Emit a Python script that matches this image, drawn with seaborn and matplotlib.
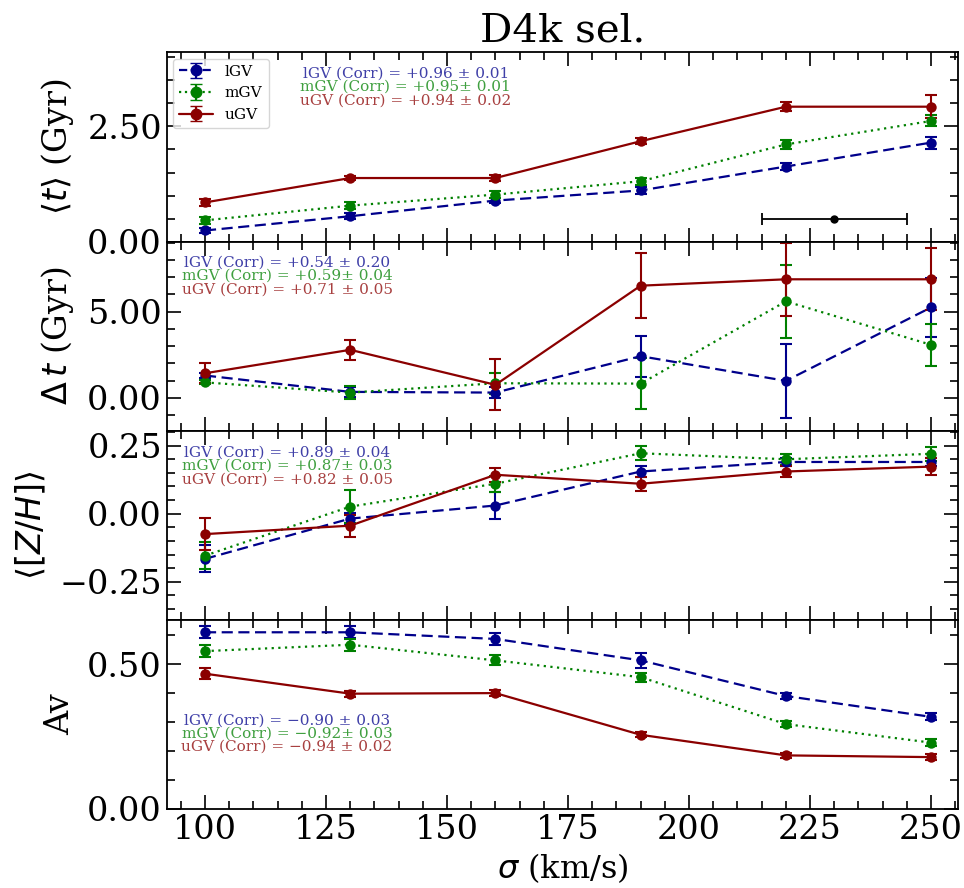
import numpy as np
import pandas as pd
import matplotlib
matplotlib.use("Agg")
import matplotlib.pyplot as plt
from matplotlib.ticker import MultipleLocator, AutoMinorLocator, FuncFormatter
import seaborn as sns

# ---------------- data ----------------
sigma = [100, 130, 160, 190, 220, 250]
groups = ["lGV", "mGV", "uGV"]

age_lGV = [0.24, 0.55, 0.89, 1.11, 1.63, 2.15]
age_mGV = [0.46, 0.78, 1.02, 1.31, 2.11, 2.62]
age_uGV = [0.85, 1.38, 1.38, 2.18, 2.93, 2.93]
age_err_lGV = [0.05, 0.06, 0.06, 0.08, 0.07, 0.13]
age_err_mGV = [0.07, 0.07, 0.08, 0.08, 0.09, 0.12]
age_err_uGV = [0.08, 0.05, 0.06, 0.06, 0.10, 0.25]

dt_lGV = [1.30, 0.35, 0.31, 2.42, 0.99, 5.25]
dt_mGV = [0.90, 0.31, 0.85, 0.83, 5.60, 3.08]
dt_uGV = [1.43, 2.79, 0.76, 6.51, 6.88, 6.88]
dt_err_lGV = [0.15, 0.30, 0.30, 1.20, 2.15, 1.70]
dt_err_mGV = [0.12, 0.40, 0.60, 1.50, 2.10, 1.23]
dt_err_uGV = [0.58, 0.58, 1.47, 1.90, 2.10, 1.80]

zh_lGV = [-0.166, -0.018, 0.030, 0.155, 0.190, 0.190]
zh_mGV = [-0.154, 0.026, 0.110, 0.222, 0.200, 0.220]
zh_uGV = [-0.075, -0.044, 0.143, 0.110, 0.155, 0.173]
zh_err_lGV = [0.050, 0.020, 0.050, 0.020, 0.015, 0.015]
zh_err_mGV = [0.050, 0.060, 0.030, 0.025, 0.020, 0.025]
zh_err_uGV = [0.059, 0.040, 0.025, 0.025, 0.020, 0.030]

av_lGV = [0.610, 0.610, 0.587, 0.513, 0.390, 0.318]
av_mGV = [0.545, 0.567, 0.513, 0.455, 0.293, 0.229]
av_uGV = [0.467, 0.398, 0.400, 0.256, 0.185, 0.179]
av_err_lGV = [0.020, 0.020, 0.020, 0.025, 0.012, 0.012]
av_err_mGV = [0.020, 0.020, 0.017, 0.015, 0.010, 0.012]
av_err_uGV = [0.020, 0.010, 0.010, 0.008, 0.008, 0.010]

corr_age = ["lGV (Corr) = +0.96 \u00b1 0.01", "mGV (Corr) = +0.95\u00b1 0.01", "uGV (Corr) = +0.94 \u00b1 0.02"]
corr_dt = ["lGV (Corr) = +0.54 \u00b1 0.20", "mGV (Corr) = +0.59\u00b1 0.04", "uGV (Corr) = +0.71 \u00b1 0.05"]
corr_zh = ["lGV (Corr) = +0.89 \u00b1 0.04", "mGV (Corr) = +0.87\u00b1 0.03", "uGV (Corr) = +0.82 \u00b1 0.05"]
corr_av = ["lGV (Corr) = \u22120.90 \u00b1 0.03", "mGV (Corr) = \u22120.92\u00b1 0.03", "uGV (Corr) = \u22120.94 \u00b1 0.02"]

ref_sigma = [230]
ref_val = [0.48]
ref_xerr = [15]

ylabels = [r"$\langle t \rangle$ (Gyr)", r"$\Delta\, t$ (Gyr)", r"$\langle [Z/H] \rangle$", "Av"]

# ---------------- style ----------------
sns.set_style("ticks")
plt.rcParams.update({
    "font.family": ["DejaVu Serif"],
    "mathtext.fontset": "dejavusans",
    "axes.linewidth": 1.3,
    "text.color": "black",
    "axes.labelcolor": "black",
    "axes.edgecolor": "black",
    "xtick.color": "black",
    "ytick.color": "black",
})

colors = {"lGV": "#00008B", "mGV": "#008000", "uGV": "#8B0000"}
dashes = {"lGV": (5, 2.5), "mGV": (1, 2), "uGV": ""}
markers = {"lGV": "o", "mGV": "o", "uGV": "o"}

panels = [
    ([age_lGV, age_mGV, age_uGV], [age_err_lGV, age_err_mGV, age_err_uGV], corr_age, (0, 4.11), 2.5),
    ([dt_lGV, dt_mGV, dt_uGV], [dt_err_lGV, dt_err_mGV, dt_err_uGV], corr_dt, (-1.9, 9.07), 5.0),
    ([zh_lGV, zh_mGV, zh_uGV], [zh_err_lGV, zh_err_mGV, zh_err_uGV], corr_zh, (-0.39, 0.305), 0.25),
    ([av_lGV, av_mGV, av_uGV], [av_err_lGV, av_err_mGV, av_err_uGV], corr_av, (0, 0.653), 0.5),
]
text_x = [0.302, 0.152, 0.152, 0.152]
text_y = [[0.889, 0.820, 0.746], [0.889, 0.820, 0.746], [0.884, 0.815, 0.741], [0.468, 0.400, 0.332]]


def fmt(v, pos):
    if abs(v) < 1e-9:
        v = 0.0
    return f"{v:.2f}".replace("-", "\u2212")


fig, axes = plt.subplots(4, 1, figsize=(9.64, 8.88), dpi=100, sharex=True)
fig.subplots_adjust(left=0.173, right=0.994, top=0.941, bottom=0.089, hspace=0)

for i, (ax, (vals, errs, corr, ylim, major)) in enumerate(zip(axes, panels)):
    rows = []
    for g, v in zip(groups, vals):
        for s, y in zip(sigma, v):
            rows.append({"sigma": s, "val": y, "group": g})
    df = pd.DataFrame(rows)
    sns.lineplot(data=df, x="sigma", y="val", hue="group", style="group",
                 palette=colors, dashes=dashes, markers=markers,
                 markersize=7.5, markeredgewidth=0, linewidth=1.6,
                 legend=False, ax=ax, zorder=3)
    for g, v, e in zip(groups, vals, errs):
        ax.errorbar(sigma, v, yerr=e, fmt="none", ecolor=colors[g],
                    elinewidth=1.5, capsize=4.5, capthick=1.5, zorder=2)
    for k, (g, t) in enumerate(zip(groups, corr)):
        ax.text(text_x[i], text_y[i][k], t, transform=ax.transAxes,
                ha="center", va="center", fontsize=11, color=colors[g], alpha=0.75)
    ax.set_ylim(*ylim)
    ax.yaxis.set_major_locator(MultipleLocator(major))
    ax.yaxis.set_minor_locator(AutoMinorLocator())
    ax.yaxis.set_major_formatter(FuncFormatter(fmt))
    ax.set_ylabel(ylabels[i], fontsize=24, labelpad=8)
    ax.set_xlabel("")
    ax.tick_params(which="both", direction="in", top=True, right=True, labelsize=24)
    ax.tick_params(which="major", length=10, width=1.2)
    ax.tick_params(which="minor", length=5.5, width=1.2)

# legend in top panel
ax0 = axes[0]
handles = []
styles = {"lGV": "--", "mGV": ":", "uGV": "-"}
for g in groups:
    h = ax0.errorbar([np.nan], [np.nan], yerr=[0.0], marker="o", ls=styles[g],
                     color=colors[g], markersize=7.5, capsize=4.5, lw=1.6, label=g)
    handles.append(h)
ax0.legend(handles=handles, loc="upper left", fontsize=11, frameon=True,
           borderaxespad=0.4, handlelength=2.2)

# reference error bar
ax0.errorbar(ref_sigma, ref_val, xerr=ref_xerr, fmt="o", color="black",
             markersize=5, capsize=4, elinewidth=1.3, capthick=1.3)

ax0.set_title("D4k sel.", fontsize=29, pad=8)

axes[-1].set_xlim(92.1, 255.6)
axes[-1].xaxis.set_major_locator(MultipleLocator(25))
axes[-1].xaxis.set_minor_locator(AutoMinorLocator())
axes[-1].set_xlabel(r"$\sigma$ (km/s)", fontsize=23)

fig.savefig("out.png", dpi=100)
